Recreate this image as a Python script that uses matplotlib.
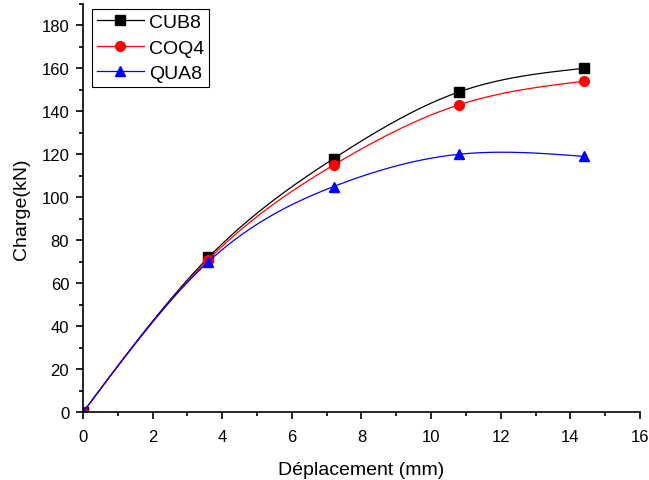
import matplotlib.pyplot as plt
import numpy as np

plt.rcParams['font.family'] = ['Liberation Sans', 'DejaVu Sans']

deplacement = [0, 3.6, 7.2, 10.8, 14.4]
cub8 = [0, 72, 118, 149, 160]
coq4 = [0, 71, 115, 143, 154]
qua8 = [0, 70, 105, 120, 119]


def spline(x, y, n=200):
    # natural cubic spline, just for drawing a smooth curve through the points
    x = np.asarray(x, float)
    y = np.asarray(y, float)
    k = len(x)
    h = np.diff(x)
    A = np.zeros((k, k))
    b = np.zeros(k)
    A[0, 0] = A[-1, -1] = 1
    for i in range(1, k - 1):
        A[i, i - 1] = h[i - 1]
        A[i, i] = 2 * (h[i - 1] + h[i])
        A[i, i + 1] = h[i]
        b[i] = 6 * ((y[i + 1] - y[i]) / h[i] - (y[i] - y[i - 1]) / h[i - 1])
    m = np.linalg.solve(A, b)
    xs = np.linspace(x[0], x[-1], n)
    idx = np.clip(np.searchsorted(x, xs) - 1, 0, k - 2)
    t = xs - x[idx]
    hi = h[idx]
    a = (m[idx + 1] - m[idx]) / (6 * hi)
    c = m[idx] / 2
    d = (y[idx + 1] - y[idx]) / hi - hi * (2 * m[idx] + m[idx + 1]) / 6
    return xs, y[idx] + d * t + c * t ** 2 + a * t ** 3


fig = plt.figure(figsize=(6.49, 4.81), dpi=100)
ax = fig.add_axes([0.128, 0.141, 0.858, 0.849])

series = [
    ('CUB8', cub8, 'black', 's'),
    ('COQ4', coq4, 'red', 'o'),
    ('QUA8', qua8, 'blue', '^'),
]
for name, vals, col, mk in series:
    xs, ys = spline(deplacement, vals)
    ax.plot(xs, ys, color=col, lw=0.9)
    ax.plot(deplacement, vals, ls='none', marker=mk, color=col, ms=7)
    ax.plot([], [], color=col, lw=0.9, marker=mk, ms=7, label=name)

ax.set_xlim(0, 16)
ax.set_ylim(0, 190)
ax.set_xticks(np.arange(0, 17, 2))
ax.set_yticks(np.arange(0, 181, 20))
ax.set_xticks(np.arange(1, 16, 2), minor=True)
ax.set_yticks(np.arange(10, 191, 20), minor=True)

for s in ['top', 'right']:
    ax.spines[s].set_visible(False)
for s in ['left', 'bottom']:
    ax.spines[s].set_linewidth(1.2)
ax.tick_params(which='major', direction='out', length=5, width=1.2, labelsize=12, pad=5)
ax.tick_params(axis='x', which='major', pad=7)
ax.tick_params(which='minor', direction='out', length=3, width=1.2)

ax.set_xlabel('Déplacement (mm)', fontsize=14, labelpad=12)
ax.set_ylabel('Charge(kN)', fontsize=14, labelpad=8)

leg = ax.legend(loc='upper left', bbox_to_anchor=(0.016, 0.988), fontsize=14,
                fancybox=False, edgecolor='black', framealpha=1,
                handlelength=2.4, borderpad=0.25, labelspacing=0.4, handletextpad=0.3,
                borderaxespad=0)
leg.get_frame().set_linewidth(0.8)

fig.savefig('out.png', dpi=100)
